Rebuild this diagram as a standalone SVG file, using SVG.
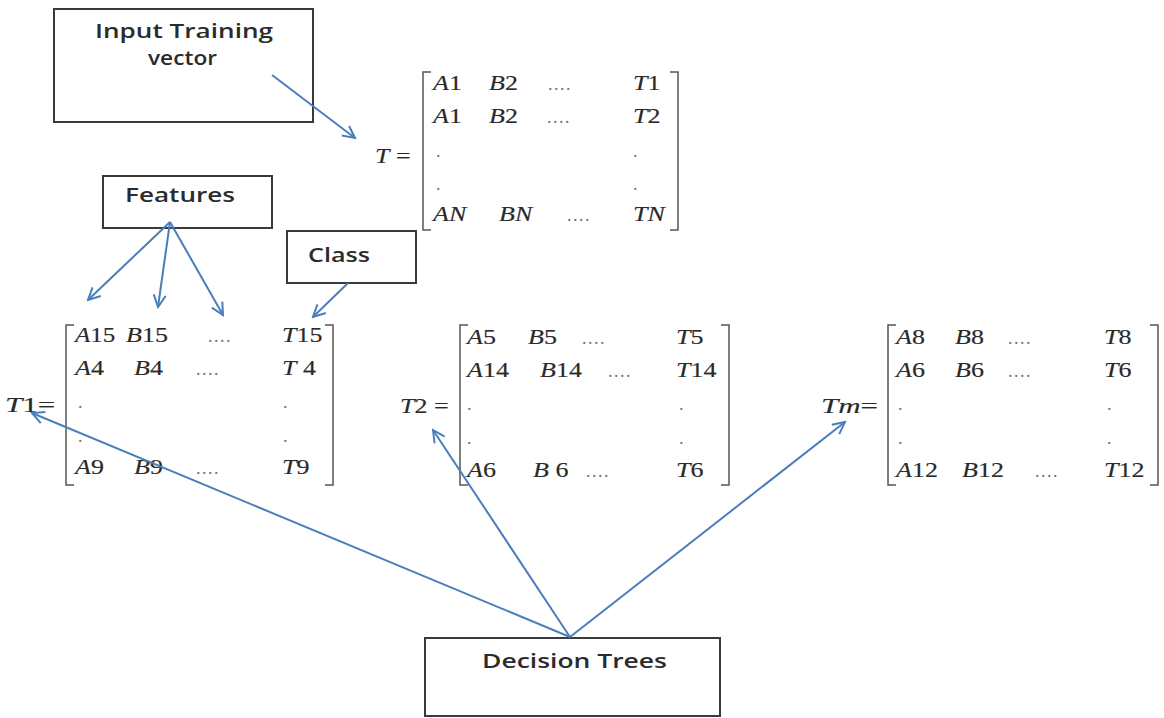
<svg xmlns="http://www.w3.org/2000/svg" width="1164" height="718" viewBox="0 0 1164 718">
  <style>
    .box { fill: #ffffff; stroke: #3a3a3a; stroke-width: 2; }
    .lbl { font-family: "Open Sans", "Liberation Sans", sans-serif; font-weight: 600; font-size: 20px; fill: #2b2b2b; }
    .m { font-family: "Liberation Serif", serif; font-size: 20px; fill: #2a2a2a; stroke: #2a2a2a; stroke-width: 0.15; }
    .i { font-style: italic; }
    .dots { font-family: "Liberation Serif", serif; font-size: 18px; fill: #777; letter-spacing: 1.5px; }
    .br { fill: none; stroke: #555; stroke-width: 1.5; }
    .conn { fill: none; stroke: #4a7ebb; stroke-width: 2; marker-end: url(#arrow); }
  </style>
  <defs>
    <marker id="arrow" markerUnits="userSpaceOnUse" viewBox="0 0 16 16" refX="14" refY="8" markerWidth="16" markerHeight="16" orient="auto">
      <path d="M2,2 L14,8 L2,14" fill="none" stroke="#4a7ebb" stroke-width="2"/>
    </marker>
  </defs>

  <rect width="1164" height="718" fill="#ffffff"/>

  <!-- label boxes -->
  <g id="input-box">
    <rect class="box" x="54" y="9" width="259" height="113"/>
    <text class="lbl" x="95" y="38" textLength="178" lengthAdjust="spacingAndGlyphs">Input Training</text>
    <text class="lbl" x="148" y="65" textLength="69" lengthAdjust="spacingAndGlyphs">vector</text>
  </g>
  <g id="features-box">
    <rect class="box" x="103" y="176" width="169" height="52"/>
    <text class="lbl" x="125" y="202" textLength="110" lengthAdjust="spacingAndGlyphs">Features</text>
  </g>
  <g id="class-box">
    <rect class="box" x="287" y="231" width="129" height="52"/>
    <text class="lbl" x="308" y="262" textLength="62" lengthAdjust="spacingAndGlyphs">Class</text>
  </g>
  <g id="decision-box">
    <rect class="box" x="425" y="638" width="295" height="78"/>
    <text class="lbl" x="482" y="668" textLength="185" lengthAdjust="spacingAndGlyphs">Decision Trees</text>
  </g>

  <!-- full training matrix T (matrix glyphs are set 1.3x wide) -->
  <g id="matrix-T">
    <text class="m" transform="translate(375,163) scale(1.3,1)"><tspan class="i">T</tspan> =</text>
    <path class="br" d="M431,72 H423 V230 H431"/>
    <path class="br" d="M670,72 H678 V230 H670"/>
    <text class="m" transform="translate(433,90) scale(1.3,1)"><tspan class="i">A</tspan>1</text>
    <text class="m" transform="translate(489,90) scale(1.3,1)"><tspan class="i">B</tspan>2</text>
    <text class="dots" x="548" y="90">....</text>
    <text class="m" transform="translate(633,90) scale(1.3,1)"><tspan class="i">T</tspan>1</text>
    <text class="m" transform="translate(433,123) scale(1.3,1)"><tspan class="i">A</tspan>1</text>
    <text class="m" transform="translate(489,123) scale(1.3,1)"><tspan class="i">B</tspan>2</text>
    <text class="dots" x="547" y="123">....</text>
    <text class="m" transform="translate(633,123) scale(1.3,1)"><tspan class="i">T</tspan>2</text>
    <text class="dots" x="436" y="157">.</text>
    <text class="dots" x="633" y="157">.</text>
    <text class="dots" x="436" y="190">.</text>
    <text class="dots" x="633" y="190">.</text>
    <text class="m" transform="translate(433,221) scale(1.3,1)"><tspan class="i">AN</tspan></text>
    <text class="m" transform="translate(499,221) scale(1.3,1)"><tspan class="i">BN</tspan></text>
    <text class="dots" x="567" y="221">....</text>
    <text class="m" transform="translate(633,221) scale(1.3,1)"><tspan class="i">TN</tspan></text>
  </g>

  <!-- subset T1 -->
  <g id="matrix-T1">
    <text class="m" transform="translate(5,412) scale(1.55,1)"><tspan class="i">T</tspan>1=</text>
    <path class="br" d="M74,325 H66 V485 H74"/>
    <path class="br" d="M325,325 H333 V485 H325"/>
    <text class="m" transform="translate(75,342) scale(1.25,1)"><tspan class="i">A</tspan>15</text>
    <text class="m" transform="translate(126,342) scale(1.3,1)"><tspan class="i">B</tspan>15</text>
    <text class="dots" x="208" y="342">....</text>
    <text class="m" transform="translate(282,342) scale(1.3,1)"><tspan class="i">T</tspan>15</text>
    <text class="m" transform="translate(75,375) scale(1.3,1)"><tspan class="i">A</tspan>4</text>
    <text class="m" transform="translate(134,375) scale(1.3,1)"><tspan class="i">B</tspan>4</text>
    <text class="dots" x="196" y="375">....</text>
    <text class="m" transform="translate(282,375) scale(1.3,1)"><tspan class="i">T</tspan> 4</text>
    <text class="dots" x="78" y="408">.</text>
    <text class="dots" x="283" y="408">.</text>
    <text class="dots" x="78" y="442">.</text>
    <text class="dots" x="283" y="442">.</text>
    <text class="m" transform="translate(75,474) scale(1.3,1)"><tspan class="i">A</tspan>9</text>
    <text class="m" transform="translate(134,474) scale(1.3,1)"><tspan class="i">B</tspan>9</text>
    <text class="dots" x="196" y="474">....</text>
    <text class="m" transform="translate(282,474) scale(1.3,1)"><tspan class="i">T</tspan>9</text>
  </g>

  <!-- subset T2 -->
  <g id="matrix-T2">
    <text class="m" transform="translate(400,413) scale(1.3,1)"><tspan class="i">T</tspan>2 =</text>
    <path class="br" d="M468,325 H460 V485 H468"/>
    <path class="br" d="M721,325 H729 V485 H721"/>
    <text class="m" transform="translate(467,344) scale(1.3,1)"><tspan class="i">A</tspan>5</text>
    <text class="m" transform="translate(528,344) scale(1.3,1)"><tspan class="i">B</tspan>5</text>
    <text class="dots" x="582" y="344">....</text>
    <text class="m" transform="translate(676,344) scale(1.3,1)"><tspan class="i">T</tspan>5</text>
    <text class="m" transform="translate(467,377) scale(1.3,1)"><tspan class="i">A</tspan>14</text>
    <text class="m" transform="translate(540,377) scale(1.3,1)"><tspan class="i">B</tspan>14</text>
    <text class="dots" x="608" y="377">....</text>
    <text class="m" transform="translate(676,377) scale(1.3,1)"><tspan class="i">T</tspan>14</text>
    <text class="dots" x="467" y="410">.</text>
    <text class="dots" x="679" y="410">.</text>
    <text class="dots" x="467" y="444">.</text>
    <text class="dots" x="679" y="444">.</text>
    <text class="m" transform="translate(467,477) scale(1.3,1)"><tspan class="i">A</tspan>6</text>
    <text class="m" transform="translate(533,477) scale(1.3,1)"><tspan class="i">B</tspan> 6</text>
    <text class="dots" x="586" y="477">....</text>
    <text class="m" transform="translate(676,477) scale(1.3,1)"><tspan class="i">T</tspan>6</text>
  </g>

  <!-- subset Tm -->
  <g id="matrix-Tm">
    <text class="m" transform="translate(821,413) scale(1.55,1)"><tspan class="i">Tm</tspan>=</text>
    <path class="br" d="M896,325 H888 V485 H896"/>
    <path class="br" d="M1150,325 H1158 V485 H1150"/>
    <text class="m" transform="translate(896,344) scale(1.3,1)"><tspan class="i">A</tspan>8</text>
    <text class="m" transform="translate(955,344) scale(1.3,1)"><tspan class="i">B</tspan>8</text>
    <text class="dots" x="1008" y="344">....</text>
    <text class="m" transform="translate(1104,344) scale(1.3,1)"><tspan class="i">T</tspan>8</text>
    <text class="m" transform="translate(896,377) scale(1.3,1)"><tspan class="i">A</tspan>6</text>
    <text class="m" transform="translate(955,377) scale(1.3,1)"><tspan class="i">B</tspan>6</text>
    <text class="dots" x="1008" y="377">....</text>
    <text class="m" transform="translate(1104,377) scale(1.3,1)"><tspan class="i">T</tspan>6</text>
    <text class="dots" x="898" y="410">.</text>
    <text class="dots" x="1107" y="410">.</text>
    <text class="dots" x="898" y="444">.</text>
    <text class="dots" x="1107" y="444">.</text>
    <text class="m" transform="translate(896,477) scale(1.3,1)"><tspan class="i">A</tspan>12</text>
    <text class="m" transform="translate(962,477) scale(1.3,1)"><tspan class="i">B</tspan>12</text>
    <text class="dots" x="1035" y="477">....</text>
    <text class="m" transform="translate(1104,477) scale(1.3,1)"><tspan class="i">T</tspan>12</text>
  </g>

  <!-- connectors -->
  <g id="connectors">
    <line class="conn" x1="272" y1="75" x2="355" y2="138"/>
    <line class="conn" x1="170" y1="222" x2="88" y2="300"/>
    <line class="conn" x1="170" y1="222" x2="158" y2="307"/>
    <line class="conn" x1="170" y1="222" x2="223" y2="315"/>
    <line class="conn" x1="348" y1="283" x2="313" y2="317"/>
    <line class="conn" x1="570" y1="637" x2="32" y2="413"/>
    <line class="conn" x1="570" y1="637" x2="433" y2="430"/>
    <line class="conn" x1="570" y1="637" x2="845" y2="422"/>
  </g>
</svg>
